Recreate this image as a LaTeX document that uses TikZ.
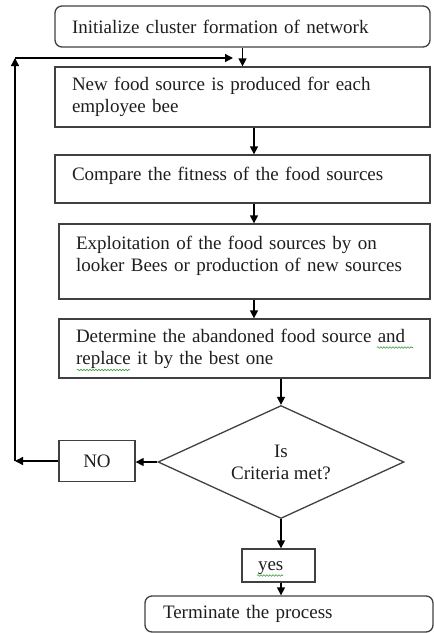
\documentclass[tikz,border=0pt]{standalone}
\usepackage{fontspec}
\setmainfont{Liberation Serif}
\usetikzlibrary{shapes.geometric,arrows.meta,decorations.pathmorphing}
\definecolor{boxline}{HTML}{404040}
\definecolor{txt}{HTML}{1E1E1E}
\definecolor{spell}{HTML}{3C9A3C}
\tikzset{
  base/.style={draw=boxline, line width=1.3pt, text=txt, inner sep=0pt,
    font=\fontsize{19}{22}\selectfont},
  proc/.style={base, rectangle, align=left},
  term/.style={base, rectangle, rounded corners=7pt, align=left},
  decision/.style={base, diamond, align=center},
  arr/.style={-{Triangle[width=8pt,length=8pt]}, line width=1.3pt, draw=black},
  squiggle/.style={draw=spell, line width=0.6pt, decorate,
    decoration={snake, amplitude=0.8pt, segment length=3pt}}
}
\begin{document}
\begin{tikzpicture}[x=1pt,y=-1pt]
\useasboundingbox (0,0) rectangle (434,633);

\node[term, minimum width=375pt, minimum height=41pt, text width=341pt] (init) at (242.5,26.5)
  {Initialize cluster formation of network};
\node[proc, minimum width=375pt, minimum height=60pt, text width=341pt] (p1) at (242.5,97)
  {New food source is produced for each\\employee bee};
\node[proc, minimum width=375pt, minimum height=48pt, text width=341pt] (p2) at (242.5,179)
  {Compare the fitness of the food sources\rule[-11pt]{0pt}{0pt}};
\node[proc, minimum width=371pt, minimum height=75pt, text width=337pt] (p3) at (244.5,261.5)
  {Exploitation of the food sources by on\\looker Bees or production of new sources\rule[-16pt]{0pt}{0pt}};
\node[proc, minimum width=371pt, minimum height=59pt, text width=337pt] (p4) at (244.5,348.5)
  {Determine the abandoned food source and\\replace it by the best one};
\node[decision, minimum width=246pt, minimum height=113pt, aspect=2.2] (dec) at (281,462)
  {Is\\Criteria met?};
\node[proc, minimum width=76pt, minimum height=41pt, align=center] (no) at (97,461) {NO};
\node[proc, minimum width=73pt, minimum height=33pt, text width=41pt] (yes) at (278.5,565.5)
  {yes\rule{0pt}{15pt}};
\node[term, minimum width=288pt, minimum height=36pt, text width=252pt] (stop) at (289,614)
  {Terminate the process};

\coordinate (ax) at (254,0);
\coordinate (lx) at (15,0);
\coordinate (c2) at (15,58);
\coordinate (c3) at (233,58);
\coordinate (c1) at (no.west -| lx);

\draw[arr] (init.south) -- (p1.north);
\draw[arr] (p1.south -| ax) -- (p2.north -| ax);
\draw[arr] (p2.south -| ax) -- (p3.north -| ax);
\draw[arr] (p3.south -| ax) -- (p4.north -| ax);
\draw[arr] (p4.south -| dec.north) -- (dec.north);
\draw[arr] (dec.west) -- (dec.west -| no.east);
\draw[arr] (no.west) -- (c1);
\draw[arr] (c1) -- (c2);
\draw[arr] (c2) -- (c3);
\draw[arr] (dec.south) -- (dec.south |- yes.north);
\draw[arr] (yes.south -| dec.south) -- (stop.north -| dec.south);

% spell-check marks
\draw[squiggle] (377,347.5) -- (413,347.5);
\draw[squiggle] (77,370) -- (130,370);
\draw[squiggle] (257,575.5) -- (283,575.5);
\end{tikzpicture}
\end{document}
